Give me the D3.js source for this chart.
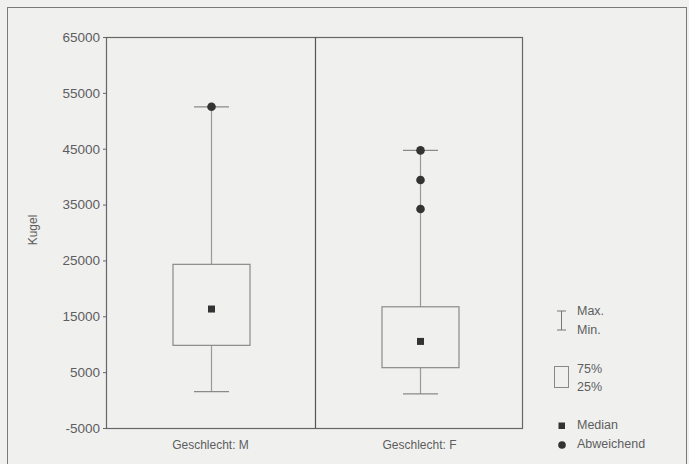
<!DOCTYPE html>
<html>
<head>
<meta charset="utf-8">
<script src="https://cdn.jsdelivr.net/npm/d3@7"></script>
<style>
  html, body { margin: 0; padding: 0; background: #f0f0ef; }
  svg { display: block; }
  text { font-family: "Liberation Sans", "DejaVu Sans", sans-serif; fill: #5e5e5e; }
</style>
</head>
<body>
<svg id="chart" width="689" height="464"></svg>
<script>
// Kugel by Geschlecht: box plot summaries
const categories = ["Geschlecht: M", "Geschlecht: F"];
const minValues    = [1500, 1100];
const q1Values     = [9800, 5800];
const medianValues = [16300, 10500];
const q3Values     = [24300, 16700];
const maxValues    = [52500, 44700];
const outlierValues = [[52500], [44700, 39400, 34200]];
const yTicks = [-5000, 5000, 15000, 25000, 35000, 45000, 55000, 65000];
const yLabel = "Kugel";
const legendLabels = { max: "Max.", min: "Min.", q3: "75%", q1: "25%", median: "Median", outlier: "Abweichend" };

const svg = d3.select("#chart");
const plot = { left: 106, right: 524, top: 37, bottom: 428 };

// outer frame
svg.append("rect")
  .attr("x", 7.5).attr("y", 7.5)
  .attr("width", 679).attr("height", 470)
  .attr("fill", "#f0f0ef").attr("stroke", "#7a7a7a").attr("stroke-width", 1);

const y = d3.scaleLinear().domain([-5000, 65000]).range([plot.bottom, plot.top]);
const x = d3.scaleBand().domain(categories).range([plot.left, plot.right]).paddingInner(0).paddingOuter(0);

// y axis
const yAxis = d3.axisLeft(y).tickValues(yTicks).tickSize(3).tickPadding(3).tickFormat(d => String(d));
const gy = svg.append("g").attr("transform", `translate(${plot.left},0)`).call(yAxis);
gy.select(".domain").remove();
gy.selectAll(".tick line").attr("stroke", "#666");
gy.selectAll(".tick text").attr("font-size", 13.5).style("fill", "#5e5e5e")
  .attr("font-family", "Liberation Sans, sans-serif");

// y label
svg.append("text")
  .attr("transform", `translate(37,230) rotate(-90)`)
  .attr("text-anchor", "middle")
  .attr("font-size", 12)
  .text(yLabel);

// plot frame + divider between categories
svg.append("rect")
  .attr("x", plot.left + 0.5).attr("y", plot.top + 0.5)
  .attr("width", plot.right - plot.left - 2).attr("height", plot.bottom - plot.top)
  .attr("fill", "none").attr("stroke", "#666").attr("stroke-width", 1.2);
categories.slice(1).forEach(c => {
  const xx = Math.round(x(c)) + 0.5;
  svg.append("line").attr("x1", xx).attr("x2", xx)
    .attr("y1", plot.top).attr("y2", plot.bottom)
    .attr("stroke", "#555").attr("stroke-width", 1.2);
});

// x labels
const gx = svg.append("g");
categories.forEach(c => {
  gx.append("text")
    .attr("x", x(c) + x.bandwidth() / 2)
    .attr("y", 449)
    .attr("text-anchor", "middle")
    .attr("font-size", 12)
    .text(c);
});

// boxes
const boxW = 77, capW = 35;
categories.forEach((c, i) => {
  const cx = Math.round(x(c) + x.bandwidth() / 2) + 0.5;
  const g = svg.append("g");
  // whiskers
  g.append("line").attr("x1", cx).attr("x2", cx)
    .attr("y1", y(maxValues[i])).attr("y2", y(q3Values[i]))
    .attr("stroke", "#9a9a9a").attr("stroke-width", 1.2);
  g.append("line").attr("x1", cx).attr("x2", cx)
    .attr("y1", y(q1Values[i])).attr("y2", y(minValues[i]))
    .attr("stroke", "#9a9a9a").attr("stroke-width", 1.2);
  // caps
  [maxValues[i], minValues[i]].forEach(v => {
    g.append("line").attr("x1", cx - capW / 2).attr("x2", cx + capW / 2)
      .attr("y1", y(v)).attr("y2", y(v))
      .attr("stroke", "#8a8a8a").attr("stroke-width", 1.2);
  });
  // box
  g.append("rect")
    .attr("x", cx - boxW / 2).attr("y", y(q3Values[i]))
    .attr("width", boxW).attr("height", y(q1Values[i]) - y(q3Values[i]))
    .attr("fill", "none").attr("stroke", "#8a8a8a").attr("stroke-width", 1.2);
  // median
  g.append("rect")
    .attr("x", cx - 3.5).attr("y", y(medianValues[i]) - 3.5)
    .attr("width", 7).attr("height", 7)
    .attr("fill", "#333");
  // outliers
  outlierValues[i].forEach(v => {
    g.append("circle").attr("cx", cx).attr("cy", y(v)).attr("r", 4.3).attr("fill", "#333");
  });
});

// legend
const lg = svg.append("g");
const lx = 561.5;
lg.append("line").attr("x1", lx).attr("x2", lx).attr("y1", 311).attr("y2", 330).attr("stroke", "#777");
lg.append("line").attr("x1", lx - 4.5).attr("x2", lx + 4.5).attr("y1", 311).attr("y2", 311).attr("stroke", "#777");
lg.append("line").attr("x1", lx - 4.5).attr("x2", lx + 4.5).attr("y1", 330).attr("y2", 330).attr("stroke", "#777");
lg.append("text").attr("x", 577).attr("y", 315).attr("font-size", 12.5).text(legendLabels.max);
lg.append("text").attr("x", 577).attr("y", 334).attr("font-size", 12.5).text(legendLabels.min);

lg.append("rect").attr("x", 554.5).attr("y", 366.5).attr("width", 14).attr("height", 21)
  .attr("fill", "none").attr("stroke", "#888");
lg.append("text").attr("x", 577).attr("y", 373).attr("font-size", 12.5).text(legendLabels.q3);
lg.append("text").attr("x", 577).attr("y", 391).attr("font-size", 12.5).text(legendLabels.q1);

lg.append("rect").attr("x", 558.5).attr("y", 422.5).attr("width", 6.5).attr("height", 6.5).attr("fill", "#333");
lg.append("text").attr("x", 577).attr("y", 429).attr("font-size", 12.5).text(legendLabels.median);
lg.append("circle").attr("cx", 562).attr("cy", 445).attr("r", 3.8).attr("fill", "#333");
lg.append("text").attr("x", 577).attr("y", 448).attr("font-size", 12.5).text(legendLabels.outlier);
</script>
</body>
</html>
